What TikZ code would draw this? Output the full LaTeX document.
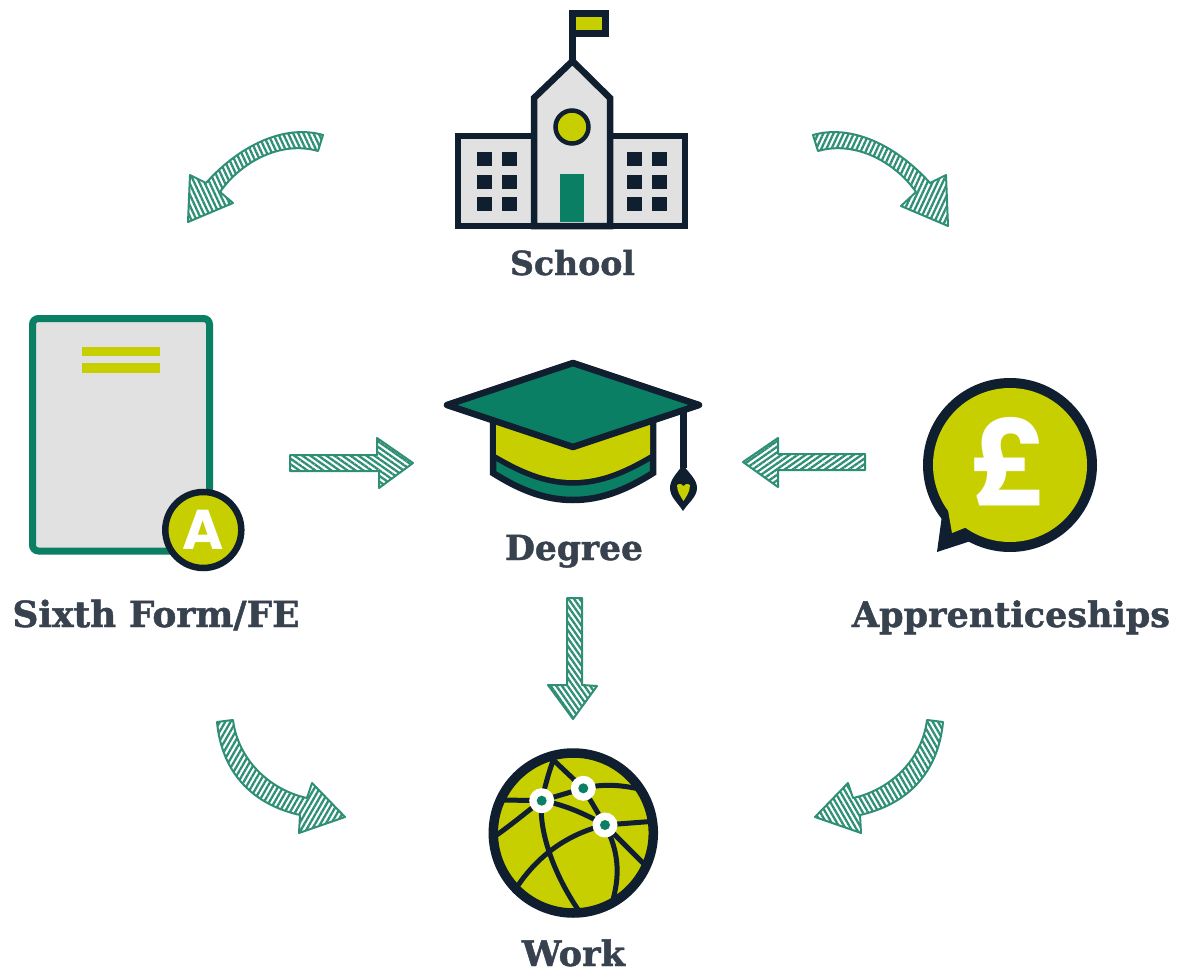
\documentclass[tikz,border=0pt]{standalone}
\usepackage{fontspec}
\setmainfont{DejaVu Serif}
\newfontfamily\lblfont[BoldFeatures={FakeBold=1.3}]{DejaVu Serif}
\newfontfamily\iconfont{Poppins}
\usetikzlibrary{patterns.meta}
\definecolor{ink}{HTML}{101F30}
\definecolor{lime}{HTML}{C8CF00}
\definecolor{teal1}{HTML}{0B7F63}
\definecolor{paper}{HTML}{E1E1E1}
\definecolor{hatchc}{HTML}{2F8F75}
\definecolor{txt}{HTML}{38424F}
\newcommand{\lbl}[2]{\resizebox{#1pt}{!}{\lblfont\bfseries #2}}
\tikzset{
  x=1pt,y=-1pt,
  line join=miter,
  ink line/.style={draw=ink,line width=6.5pt},
  label text/.style={inner sep=0pt,anchor=base,text=txt},
  blockarrow/.style={draw=hatchc,line width=2pt,line join=round,
    pattern={Lines[angle=#1,distance=4.6pt,line width=2.3pt]},pattern color=hatchc},
  blockarrow/.default=115,
  window/.style={fill=ink},
  globe line/.style={draw=ink,line width=5pt},
  hub/.style={circle,fill=white,minimum size=25pt,inner sep=0pt},
  hubdot/.style={circle,fill=teal1,minimum size=10pt,inner sep=0pt}
}
\begin{document}
\begin{tikzpicture}
\useasboundingbox (0,0) rectangle (1179,974);
\fill[white] (0,0) rectangle (1179,974);

% ---------- School
\draw[ink line,fill=paper] (458,136) rectangle (685,226);
\draw[ink line,fill=paper] (534,226) -- (534,98) -- (572.5,61) -- (610,98) -- (610,226) -- cycle;
\draw[ink line] (572.5,61) -- (572.5,13.5);
\draw[ink line,fill=lime,line width=7pt] (572.5,13.5) rectangle (605,34);
\draw[draw=ink,line width=4.5pt,fill=lime] (572,127) circle[radius=16.5];
\fill[teal1] (560,174) rectangle (584,222);
\foreach \cx in {477,502,627,652}
  \foreach \cy in {152,175,197}
    \fill[window] (\cx,\cy) rectangle ++(15,14);
\node[label text] (school) at (572.5,275) {\lbl{125}{School}};

% ---------- Certificate
\draw[draw=teal1,fill=paper,line width=7pt,rounded corners=6pt] (32.5,318.5) rectangle (209.5,551);
\fill[lime] (82,347) rectangle (160,356);
\fill[lime] (82,363) rectangle (160,373);
\node[circle,draw=ink,fill=lime,line width=6.5pt,minimum size=76pt,inner sep=0pt,
  font=\iconfont\bfseries\fontsize{56}{56}\selectfont,text=white] (badge) at (203.3,530) {A};
\node[label text] (sixth) at (156,627) {\lbl{287}{Sixth Form/FE}};

% ---------- Mortarboard
\draw[ink line,fill=teal1] (493,423) -- (493,473) .. controls (520,490) and (545,500) .. (573,500)
   .. controls (601,500) and (626,490) .. (653,473) -- (653,423) -- cycle;
\fill[lime] (496,425) -- (496,456) .. controls (520,470) and (545,480) .. (573,480)
   .. controls (601,480) and (626,470) .. (650,456) -- (650,425) -- cycle;
\draw[draw=ink,line width=5.5pt] (493,456) .. controls (520,472) and (545,483) .. (573,483)
   .. controls (601,483) and (626,472) .. (653,456);
\draw[ink line,fill=teal1,line join=round] (447,405) -- (573,363) -- (699,405) -- (573,447) -- cycle;
\draw[draw=ink,line width=6.5pt] (683.5,410) -- (683.5,468);
\fill[ink] (683,465) .. controls (676,474) and (670,480) .. (670,488)
   .. controls (670,497) and (678,503) .. (683,511)
   .. controls (688,503) and (697,497) .. (697,488)
   .. controls (697,480) and (690,474) .. (683,465) -- cycle;
\fill[lime] (677,485) .. controls (680,483) and (682,484) .. (683.5,486)
   .. controls (685,484) and (687,483) .. (690,485)
   .. controls (690,492) and (686,497) .. (683.5,501)
   .. controls (681,497) and (677,492) .. (677,485) -- cycle;
\node[label text] (degree) at (574,560) {\lbl{138}{Degree}};

% ---------- Pound bubble
\fill[ink] (1010,465) circle[radius=87];
\fill[ink] (943,508) -- (937,552) -- (980,538) -- cycle;
\fill[lime] (1010,465) circle[radius=77];
\fill[lime] (948,510) -- (952,533) -- (972,525) -- cycle;
\node[inner sep=0pt,text=white,font=\iconfont\bfseries\fontsize{118}{118}\selectfont] (pound) at (1010,462) {£};
\node[label text] (appr) at (1011,627) {\lbl{318}{Apprenticeships}};

% ---------- Globe
\fill[lime] (573.3,833) circle[radius=80];
\begin{scope}[shift={(470,740)},x=0.33333pt,y=-0.33333pt]
  \clip (310,280) circle[radius=245];
  \coordinate (h1) at (215,182);
  \coordinate (h2) at (340,145);
  \coordinate (h3) at (405,255);
  \draw[globe line] (250,60) .. controls (235,100) and (225,140) .. (h1)
      .. controls (205,270) and (250,400) .. (325,510);
  \draw[globe line] (250,60) -- (h2) -- (h3) .. controls (445,330) and (450,400) .. (430,475);
  \draw[globe line] (100,180) -- (h1) -- (h2);
  \draw[globe line] (80,285) .. controls (130,250) and (170,215) .. (h1);
  \draw[globe line] (h1) .. controls (290,195) and (350,225) .. (h3);
  \draw[globe line] (h2) .. controls (400,130) and (460,135) .. (520,150);
  \draw[globe line] (h3) -- (535,245);
  \draw[globe line] (h3) -- (525,375);
  \draw[globe line] (h3) .. controls (300,280) and (210,340) .. (145,435);
\end{scope}
\draw[draw=ink,line width=9.5pt] (573.3,833) circle[radius=80];
\node[hub] (n1) at (541.7,800.7) {};
\node[hub] (n2) at (583.3,788.3) {};
\node[hub] (n3) at (605,825) {};
\node[hubdot] at (n1) {};
\node[hubdot] at (n2) {};
\node[hubdot] at (n3) {};
\node[label text] (work) at (573.5,966) {\lbl{103}{Work}};

% ---------- Block arrows
% top left
\path[blockarrow=115] (323,135) .. controls (285,124) and (240,145) .. (206,183)
   -- (190,175) -- (188,222) -- (233,203) -- (220,192)
   .. controls (240,163) and (280,140) .. (318,151) -- cycle;
% top right
\path[blockarrow=65] (813,135) .. controls (851,124) and (896,145) .. (930,183)
   -- (946,175) -- (948,226) -- (901,206) -- (916,192)
   .. controls (896,163) and (856,140) .. (818,151) -- cycle;
% bottom left
\path[blockarrow=60] (217,722) .. controls (222,775) and (255,805) .. (300,815)
   -- (299,833) -- (345,817) -- (312,783) -- (307,798)
   .. controls (270,790) and (238,760) .. (233,720) -- cycle;
% bottom right
\path[blockarrow=120] (943,722) .. controls (938,775) and (905,805) .. (860,815)
   -- (861,833) -- (815,817) -- (848,783) -- (853,798)
   .. controls (890,790) and (922,760) .. (927,720) -- cycle;
% straight right
\path[blockarrow=145] (290,455) -- (377,455) -- (377,438) -- (413,463) -- (379,488) -- (379,471) -- (290,471) -- cycle;
% straight left
\path[blockarrow=35] (865,454) -- (778,454) -- (778,438) -- (743,462) -- (778,487) -- (778,470) -- (865,470) -- cycle;
% straight down
\path[blockarrow=125] (567,598) -- (582,598) -- (582,685) -- (597,686) -- (573,719) -- (548,685) -- (567,685) -- cycle;
\end{tikzpicture}
\end{document}
